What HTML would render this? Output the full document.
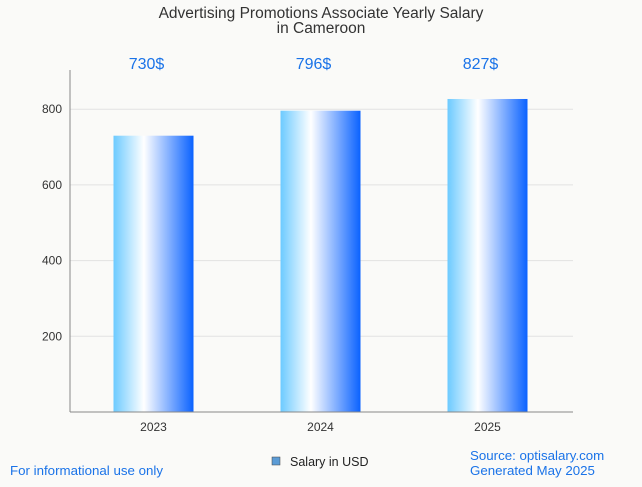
<!DOCTYPE html>
<html><head><meta charset="utf-8"><style>
body{margin:0;background:#fafaf8;font-family:"Liberation Sans",sans-serif;}
svg text{font-family:"Liberation Sans",sans-serif;}
</style></head><body>
<svg id="c" width="642" height="482">
<defs><linearGradient id="g" x1="0" x2="1" y1="0" y2="0">
<stop offset="0" stop-color="#6ccaff"/><stop offset="0.38" stop-color="#ffffff"/><stop offset="1" stop-color="#0a62ff"/></linearGradient></defs>
<text x="321" y="18" text-anchor="middle" font-size="15.5" fill="#333">Advertising Promotions Associate Yearly Salary</text>
<text x="321" y="33" text-anchor="middle" font-size="15.5" fill="#333">in Cameroon</text>
<g id="grid"></g><g id="bars"></g>
<line x1="70" y1="70" x2="70" y2="412" stroke="#888"/>
<line x1="70" y1="412" x2="573" y2="412" stroke="#888"/>
<rect x="272" y="457" width="8" height="8" fill="#5b9bd5" stroke="#444" stroke-width="0.5"/>
<text x="290" y="466" font-size="12.5" fill="#222">Salary in USD</text>
<text x="10" y="475" font-size="13.3" fill="#1a73e8">For informational use only</text>
<text x="470" y="460" font-size="13.3" fill="#1a73e8">Source: optisalary.com</text>
<text x="470" y="475" font-size="13.3" fill="#1a73e8">Generated May 2025</text>
</svg>
<script>
const categories=["2023","2024","2025"];
const salaries=[730,796,827];
const labels=["730$","796$","827$"];
const yTicks=[200,400,600,800];
const NS="http://www.w3.org/2000/svg";
const y=v=>412-v*0.3785;
const band=167, x0=70;
const xc=i=>x0+band*(i+0.5);
function mk(t,a,p){const e=document.createElementNS(NS,t);for(const k in a)e.setAttribute(k,a[k]);p.appendChild(e);return e;}
const grid=document.getElementById('grid'),bars=document.getElementById('bars');
yTicks.forEach(v=>{
 const l=mk('line',{x1:70,x2:573,y1:y(v),y2:y(v),stroke:'#e2e2e2'},grid);
 
 
 const t=mk('text',{x:62,y:y(v)+4,'text-anchor':'end','font-size':12,fill:'#333'},grid);
 t.textContent=v;
 
 
});
categories.forEach((c,i)=>{
 const r=mk('rect',{x:xc(i)-40,y:y(salaries[i]),width:80,height:412-y(salaries[i]),fill:'url(#g)'},bars);
 
 
 const t=mk('text',{x:xc(i),y:431,'text-anchor':'middle','font-size':12,fill:'#333'},bars);
 t.textContent=c;
 
 
 const v=mk('text',{x:xc(i)-7,y:69,'text-anchor':'middle','font-size':16,fill:'#1a73e8'},bars);
 v.textContent=labels[i];
 
 
});
</script>
</body></html>
